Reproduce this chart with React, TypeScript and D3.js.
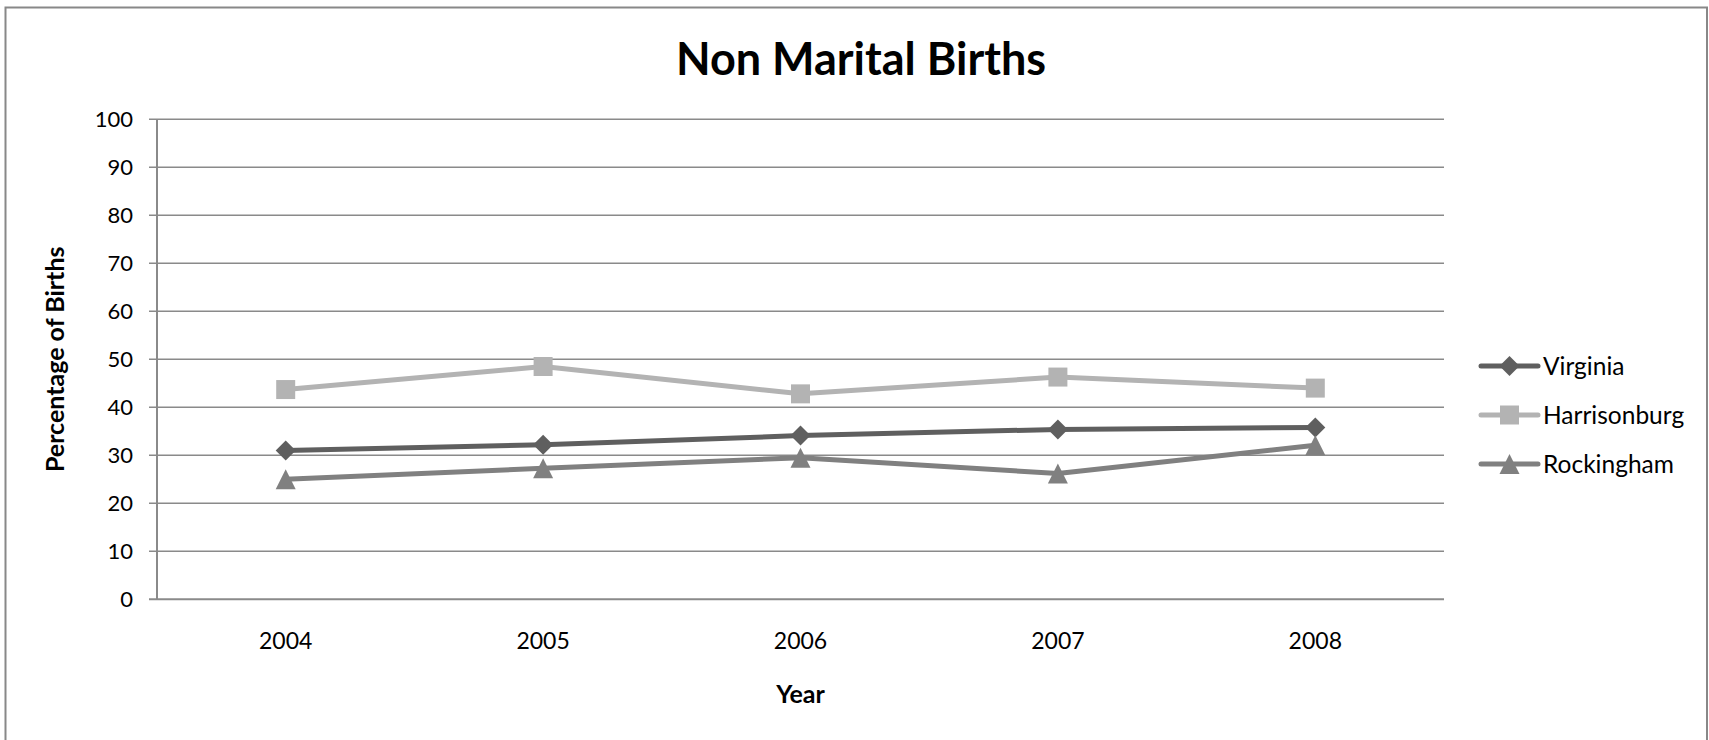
import React from "react";
import * as d3 from "d3";

const years = ["2004", "2005", "2006", "2007", "2008"];
const yTicks = [0, 10, 20, 30, 40, 50, 60, 70, 80, 90, 100];
const virginia = [31.0, 32.2, 34.1, 35.4, 35.8];
const harrisonburg = [43.7, 48.5, 42.8, 46.3, 44.0];
const rockingham = [25.0, 27.3, 29.5, 26.2, 32.1];
const seriesNames = ["Virginia", "Harrisonburg", "Rockingham"];

const W = 1709;
const H = 740;
const plot = { left: 157, right: 1444, top: 119.3, bottom: 599.3 };
const FONT = "Lato, 'Open Sans', sans-serif";

const series = [
  { name: seriesNames[0], values: virginia, color: "#5f5f5f", marker: "diamond" },
  { name: seriesNames[1], values: harrisonburg, color: "#b3b3b3", marker: "square" },
  { name: seriesNames[2], values: rockingham, color: "#808080", marker: "triangle" },
];

function markerPath(kind: string): string {
  const r = 10;
  if (kind === "diamond") return `M0,${-r}L${r},0L0,${r}L${-r},0Z`;
  if (kind === "square") return `M${-9.5},${-9.5}H9.5V9.5H${-9.5}Z`;
  return `M0,${-r}L${r},${r}L${-r},${r}Z`;
}

export default function App() {
  const x = d3.scaleBand<string>().domain(years).range([plot.left, plot.right]).padding(0);
  const y = d3.scaleLinear().domain([0, 100]).range([plot.bottom, plot.top]);
  const cx = (yr: string) => (x(yr) as number) + x.bandwidth() / 2;
  const line = d3
    .line<number>()
    .x((_, i) => cx(years[i]))
    .y((v) => y(v));

  const legendY = [366, 415, 464];

  return (
    <svg
      width={W}
      height={H}
      style={{ position: "absolute", left: 0, top: 0, display: "block", background: "#fff" }}
    >
      <rect x={0} y={0} width={W} height={H} fill="#fff" />
      <rect x={5.5} y={7.5} width={1701.5} height={740} fill="none" stroke="#888" strokeWidth={2} />
      <text
        x={861}
        y={75}
        textAnchor="middle"
        fontFamily={FONT}
        fontWeight="bold"
        fontSize={45}
        fill="#000"
      >
        Non Marital Births
      </text>

      {/* gridlines and y ticks */}
      {yTicks.map((t) => (
        <g key={t}>
          <line
            x1={plot.left - 8}
            x2={plot.right}
            y1={y(t)}
            y2={y(t)}
            stroke="#8a8a8a"
            strokeWidth={t === 0 ? 2 : 1.6}
          />
          <text
            x={133}
            y={y(t) + 7.8}
            textAnchor="end"
            fontFamily={FONT}
            fontSize={22}
            fill="#000"
          >
            {t}
          </text>
        </g>
      ))}
      <line x1={plot.left} x2={plot.left} y1={plot.top} y2={plot.bottom} stroke="#8a8a8a" strokeWidth={2} />

      {/* x labels */}
      {years.map((yr) => (
        <text
          key={yr}
          x={cx(yr)}
          y={649}
          textAnchor="middle"
          fontFamily={FONT}
          fontSize={23}
          fill="#000"
        >
          {yr}
        </text>
      ))}

      <text
        x={(plot.left + plot.right) / 2}
        y={703}
        textAnchor="middle"
        fontFamily={FONT}
        fontWeight="bold"
        fontSize={25}
        fill="#000"
      >
        Year
      </text>
      <text
        transform={`translate(64,${(plot.top + plot.bottom) / 2}) rotate(-90)`}
        textAnchor="middle"
        fontFamily={FONT}
        fontWeight="bold"
        fontSize={25}
        fill="#000"
      >
        Percentage of Births
      </text>

      {/* series */}
      {series.map((s) => (
        <g key={s.name}>
          <path d={line(s.values) || ""} fill="none" stroke={s.color} strokeWidth={5} strokeLinejoin="round" />
          {s.values.map((v, i) => (
            <path
              key={i}
              d={markerPath(s.marker)}
              transform={`translate(${cx(years[i])},${y(v)})`}
              fill={s.color}
            />
          ))}
        </g>
      ))}

      {/* legend */}
      {series.map((s, i) => (
        <g key={s.name}>
          <line
            x1={1481}
            x2={1538}
            y1={legendY[i]}
            y2={legendY[i]}
            stroke={s.color}
            strokeWidth={5}
            strokeLinecap="round"
          />
          <path d={markerPath(s.marker)} transform={`translate(1509.5,${legendY[i]})`} fill={s.color} />
          <text
            x={1543}
            y={legendY[i] + 8.5}
            fontFamily={FONT}
            fontSize={24.5}
            fill="#000"
          >
            {s.name}
          </text>
        </g>
      ))}
    </svg>
  );
}
